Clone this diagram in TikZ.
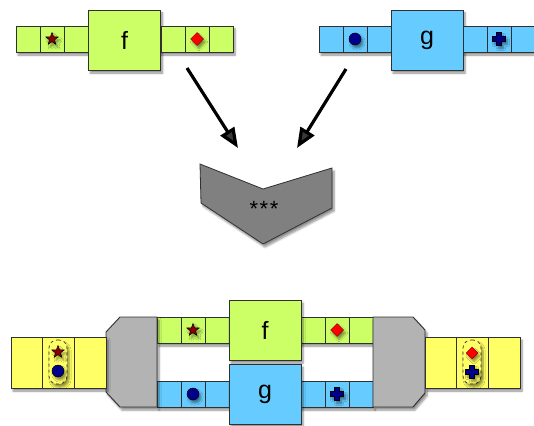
\documentclass[tikz,border=0pt]{standalone}
\usepackage{fontspec}
\setmainfont{Liberation Sans}
\usetikzlibrary{shapes.geometric,arrows.meta,shadows.blur}
\definecolor{fgreen}{HTML}{CCFF66}
\definecolor{gblue}{HTML}{66CCFF}
\definecolor{yell}{HTML}{FFFF66}
\definecolor{lgray}{HTML}{B3B3B3}
\definecolor{dgray}{HTML}{808080}
\definecolor{edgec}{HTML}{303030}
\definecolor{starred}{HTML}{8B0000}
\definecolor{dotblue}{HTML}{00008B}
\tikzset{
  shad/.style={blur shadow={shadow xshift=2pt,shadow yshift=-3pt,shadow blur steps=6,shadow opacity=45}},
  cellbox/.style={draw=edgec,line width=0.9pt,minimum width=24pt,minimum height=26pt,inner sep=0pt,outer sep=0pt},
  ycell/.style={draw=edgec,line width=0.9pt,minimum width=31.67pt,minimum height=51pt,inner sep=0pt,outer sep=0pt,fill=yell},
  bigbox/.style={draw=edgec,line width=0.9pt,minimum width=72pt,minimum height=60pt,inner sep=0pt,outer sep=0pt,font=\fontsize{25}{25}\selectfont,shad},
  starsym/.style={star,star points=5,star point ratio=2.4,fill=starred,draw=black,line width=0.5pt,minimum size=13pt,inner sep=0pt,shad},
  dotsym/.style={circle,fill=dotblue,draw=black,line width=0.5pt,minimum size=12pt,inner sep=0pt,shad},
  diasym/.style={diamond,fill=red,draw=starred,line width=0.5pt,minimum size=13pt,inner sep=0pt,shad},
  plussym/.pic={\path[fill=dotblue,draw=black,line width=0.6pt,shad] (-6.5,-2.5)--(-2.5,-2.5)--(-2.5,-6.5)--(2.5,-6.5)--(2.5,-2.5)--(6.5,-2.5)--(6.5,2.5)--(2.5,2.5)--(2.5,6.5)--(-2.5,6.5)--(-2.5,2.5)--(-6.5,2.5)--cycle;},
  connshape/.style={fill=lgray,draw=edgec,line width=0.9pt,shad},
  capsule/.style={draw=edgec,dashed,line width=0.7pt,rounded corners=8pt,minimum width=18pt,minimum height=44pt,inner sep=0pt},
  bigarrow/.style={line width=3.2pt,-{Triangle[length=20pt,width=16pt]}},
}
\begin{document}
\begin{tikzpicture}[x=1pt,y=-1pt]
\useasboundingbox (0,0) rectangle (534,425);
% ---- top f
\path[fill=fgreen,shad] (16,26) rectangle (233,52);
\node[bigbox,fill=fgreen] (fbox) at (124.5,40) {f};
\foreach \x/\n in {28/fa,52/fb,76/fc,173/fd,197/fe,221/ff}
  \node[cellbox,fill=fgreen] (\n) at (\x,39) {};
\node[starsym] (fstar) at (52,39) {};
\node[diasym] (fdia) at (197,39) {};
% ---- top g
\path[fill=gblue,shad] (319,26) rectangle (535,52);
\node[bigbox,fill=gblue] (gbox) at (427,40) {g};
\foreach \x/\n in {331/ga,355/gb,379/gc,475/gd,499/ge,523/gf}
  \node[cellbox,fill=gblue] (\n) at (\x,39) {};
\node[dotsym] (gdot) at (355,39) {};
\pic at (499,39) {plussym};
% ---- arrows
\coordinate (a1s) at (187,68);
\coordinate (a1e) at (238,148);
\coordinate (a2s) at (346,69);
\coordinate (a2e) at (297,148);
\draw[bigarrow] (a1s) -- (a1e);
\draw[bigarrow] (a2s) -- (a2e);
% ---- chevron
\draw[fill=dgray,draw=edgec,line width=0.8pt,shad] (200,164)--(263,189)--(332,168)--(332,208)--(263,244)--(201,203)--cycle;
\node[font=\fontsize{22}{22}\selectfont,anchor=base,inner sep=0pt] (chev) at (264,216) {*\kern1.5pt*\kern1.5pt*};
% ---- bottom
\path[fill=fgreen,shad] (157,317) rectangle (373,343);
\path[fill=gblue,shad] (157,381) rectangle (373,407);
\foreach \x/\n in {169/bfa,193/bfb,217/bfc,313/bfd,337/bfe,361/bff}
  \node[cellbox,fill=fgreen] (\n) at (\x,330) {};
\foreach \x/\n in {169/bga,193/bgb,217/bgc,313/bgd,337/bge,361/bgf}
  \node[cellbox,fill=gblue] (\n) at (\x,394) {};
\node[bigbox,fill=fgreen] (bfbox) at (265,330) {f};
\node[bigbox,fill=gblue] (bgbox) at (265,394) {g};
\node[starsym] (bstar) at (193,330) {};
\node[diasym] (bdia) at (337,330) {};
\node[dotsym] (bdot) at (193,394) {};
\pic at (337,394) {plussym};
% connectors
\draw[connshape] (106,332)--(120,317)--(157,317)--(157,407)--(120,407)--(106,392)--cycle;
\draw[connshape] (373,317)--(413,317)--(425,330)--(425,393)--(413,407)--(373,407)--cycle;
% yellow bars
\path[fill=yell,shad] (11,337) rectangle (106,388);
\path[fill=yell,shad] (425,337) rectangle (520,388);
\foreach \x/\n in {26.83/ya,58.5/yb,90.17/yc}
  \node[ycell] (\n) at (\x,362.5) {};
\foreach \x/\n in {440.83/yd,472.5/ye,504.17/yf}
  \node[ycell] (\n) at (\x,362.5) {};
\node[capsule,shad,fill=yell] (capl) at (58,362) {};
\node[capsule,shad,fill=yell] (capr) at (472,362) {};
\node[starsym] (ystar) at (58,352) {};
\node[dotsym] (ydot) at (58,371) {};
\node[diasym,minimum size=12pt] (ydia) at (472,353) {};
\pic at (472,372) {plussym};
\end{tikzpicture}
\end{document}
